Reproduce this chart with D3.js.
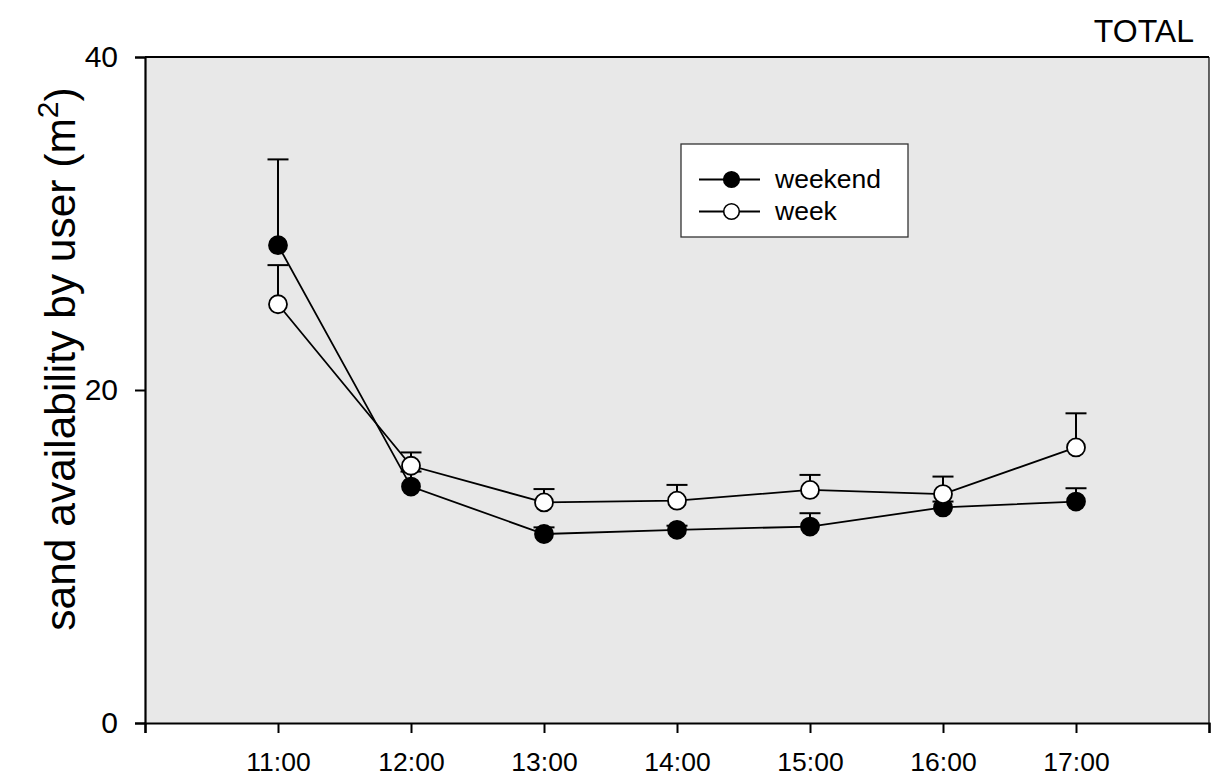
<!DOCTYPE html>
<html>
<head>
<meta charset="utf-8">
<script src="https://cdn.jsdelivr.net/npm/d3@7"></script>
<style>
  html, body { margin: 0; padding: 0; background: #fff; }
  svg text { font-family: "Liberation Sans", Arial, sans-serif; fill: #000; }
</style>
</head>
<body>
<svg id="chart" width="1216" height="783"></svg>
<script>
// ---- data ----
const hours = [11, 12, 13, 14, 15, 16, 17];
const hourLabels = ["11:00", "12:00", "13:00", "14:00", "15:00", "16:00", "17:00"];
const weekendMean = [28.7, 14.2, 11.35, 11.6, 11.8, 12.95, 13.3];
const weekendUpper = [33.85, 15.1, 11.75, 11.85, 12.6, 13.3, 14.1];
const weekMean = [25.15, 15.45, 13.25, 13.35, 14.0, 13.75, 16.55];
const weekUpper = [27.5, 16.25, 14.05, 14.3, 14.9, 14.8, 18.6];
const yTicks = [0, 20, 40];
const xTickPositions = [10, 11, 12, 13, 14, 15, 16, 17, 18];
const seriesNames = ["weekend", "week"];
const title = "TOTAL";

(function () {
// ---- layout ----
const svg = d3.select("#chart");
const pL = 145, pR = 1209, pT = 57, pB = 723;
const x = d3.scaleLinear().domain([10, 18]).range([pL, pR]);
const y = d3.scaleLinear().domain([0, 40]).range([pB, pT]);

// plot background
svg.append("rect")
  .attr("x", pL).attr("y", pT)
  .attr("width", pR - pL).attr("height", pB - pT)
  .attr("fill", "#e8e8e8");

// frame top & right
svg.append("line").attr("x1", pL).attr("x2", pR).attr("y1", pT).attr("y2", pT)
  .attr("stroke", "#000").attr("stroke-width", 2);
svg.append("line").attr("x1", pR).attr("x2", pR).attr("y1", pT).attr("y2", pB)
  .attr("stroke", "#000").attr("stroke-width", 1.2);

// axes
const labelMap = new Map(hours.map((h, i) => [h, hourLabels[i]]));
const xAxis = d3.axisBottom(x).tickValues(xTickPositions)
  .tickFormat(d => labelMap.get(d) || "").tickSize(10).tickPadding(19);
const gx = svg.append("g").attr("transform", `translate(0,${pB})`).call(xAxis);
gx.select(".domain").attr("stroke-width", 2.2);
gx.selectAll(".tick line").attr("stroke-width", 2);
gx.selectAll("text").attr("font-size", 26.5).attr("font-family", "Liberation Sans, Arial, sans-serif");

const yAxis = d3.axisLeft(y).tickValues(yTicks).tickSize(10).tickPadding(17);
const gy = svg.append("g").attr("transform", `translate(${pL},0)`).call(yAxis);
gy.select(".domain").attr("stroke-width", 2.2);
gy.selectAll(".tick line").attr("stroke-width", 2);
gy.selectAll("text").attr("font-size", 30).attr("font-family", "Liberation Sans, Arial, sans-serif");

// y label
const yl = svg.append("text")
  .attr("transform", `translate(75,359) rotate(-90)`)
  .attr("text-anchor", "middle")
  .attr("font-size", 42.5);
yl.append("tspan").text("sand availability by user (m");
yl.append("tspan").attr("dy", -17).attr("font-size", 30).text("2");
yl.append("tspan").attr("dy", 17).text(")");

// title
svg.append("text").attr("x", 1194).attr("y", 42).attr("text-anchor", "end")
  .attr("font-size", 32).text(title);

// series
const series = [
  { name: seriesNames[0], mean: weekendMean, upper: weekendUpper, fill: "#000" },
  { name: seriesNames[1], mean: weekMean, upper: weekUpper, fill: "#fff" }
];
const line = d3.line().x(d => x(d.h)).y(d => y(d.v));

series.forEach(s => {
  const pts = hours.map((h, i) => ({ h, v: s.mean[i], u: s.upper[i] }));
  const g = svg.append("g");
  g.selectAll("line.err").data(pts).enter().append("line").attr("class", "err")
    .attr("x1", d => x(d.h)).attr("x2", d => x(d.h))
    .attr("y1", d => y(d.v)).attr("y2", d => y(d.u))
    .attr("stroke", "#000").attr("stroke-width", 2);
  g.selectAll("line.cap").data(pts).enter().append("line").attr("class", "cap")
    .attr("x1", d => x(d.h) - 10.5).attr("x2", d => x(d.h) + 10.5)
    .attr("y1", d => y(d.u)).attr("y2", d => y(d.u))
    .attr("stroke", "#000").attr("stroke-width", 2);
  g.append("path").datum(pts).attr("d", line)
    .attr("fill", "none").attr("stroke", "#000").attr("stroke-width", 1.8);
  g.selectAll("circle").data(pts).enter().append("circle")
    .attr("cx", d => x(d.h)).attr("cy", d => y(d.v)).attr("r", 9)
    .attr("fill", s.fill).attr("stroke", "#000").attr("stroke-width", 1.8);
});

// legend
const lg = svg.append("g");
lg.append("rect").attr("x", 681).attr("y", 144).attr("width", 227).attr("height", 93)
  .attr("fill", "#fff").attr("stroke", "#333").attr("stroke-width", 1.3);
series.forEach((s, i) => {
  const yy = 179.5 + i * 32;
  lg.append("line").attr("x1", 699).attr("x2", 760).attr("y1", yy).attr("y2", yy)
    .attr("stroke", "#000").attr("stroke-width", 1.8);
  lg.append("circle").attr("cx", 731.5).attr("cy", yy).attr("r", 7.8)
    .attr("fill", s.fill).attr("stroke", "#000").attr("stroke-width", 1.6);
  lg.append("text").attr("x", 775).attr("y", yy + 8).attr("font-size", 26.5).text(s.name);
});
})();
</script>
</body>
</html>
